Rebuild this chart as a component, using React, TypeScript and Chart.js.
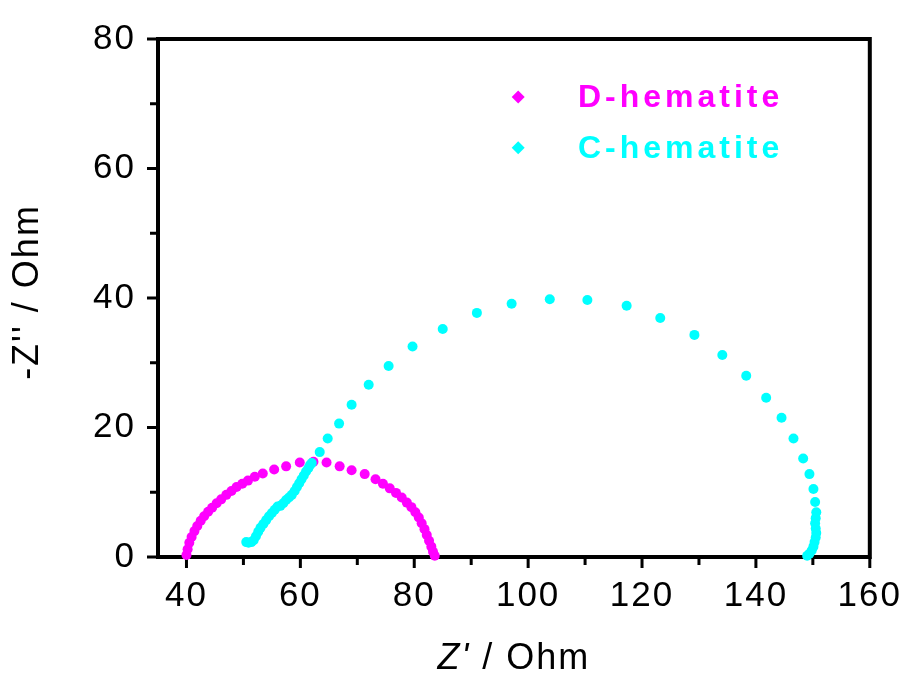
import React, { useEffect, useRef } from "react";
import { Chart, registerables } from "chart.js";

Chart.register(...registerables);

// D-hematite (magenta) Nyquist data
const dHematiteX = [40.0, 40.2, 40.5, 40.9, 41.4, 41.9, 42.5, 43.1, 43.8, 44.5, 45.3, 46.1, 47.0, 47.9, 48.8, 49.8, 50.8, 52.0, 53.4, 55.4, 57.5, 59.9, 62.3, 64.6, 66.9, 69.0, 71.3, 73.2, 74.5, 75.7, 76.8, 77.8, 78.7, 79.5, 80.2, 80.8, 81.3, 81.8, 82.2, 82.6, 83.0, 83.3, 83.6];
const dHematiteY = [0.3, 1.2, 2.2, 3.1, 4.0, 4.8, 5.6, 6.3, 7.0, 7.6, 8.3, 8.9, 9.6, 10.2, 10.8, 11.3, 11.8, 12.4, 12.9, 13.5, 14.0, 14.6, 14.7, 14.6, 14.0, 13.4, 12.8, 12.0, 11.3, 10.6, 9.9, 9.2, 8.4, 7.7, 6.9, 6.1, 5.2, 4.3, 3.4, 2.5, 1.6, 0.8, 0.2];

// C-hematite (cyan) Nyquist data
const cHematiteX = [50.5, 50.9, 51.4, 51.8, 52.2, 52.6, 53.0, 53.5, 54.0, 54.5, 55.0, 55.5, 56.0, 56.5, 57.0, 57.5, 58.0, 58.5, 59.0, 59.4, 59.8, 60.2, 60.6, 61.0, 61.4, 61.7, 62.0, 63.4, 64.8, 66.8, 69.0, 72.0, 75.5, 79.7, 85.0, 91.0, 97.1, 103.8, 110.4, 117.3, 123.2, 129.2, 134.1, 138.3, 141.8, 144.5, 146.6, 148.3, 149.4, 150.1, 150.4, 150.6, 150.5, 150.4, 150.5, 150.6, 150.5, 150.3, 150.1, 149.8, 149.4, 149.0];
const cHematiteY = [2.3, 2.2, 2.3, 2.6, 3.2, 3.9, 4.5, 5.1, 5.7, 6.3, 6.8, 7.3, 7.8, 7.9, 8.3, 8.8, 9.2, 9.6, 10.2, 10.8, 11.4, 12.0, 12.6, 13.2, 13.7, 14.2, 14.5, 16.2, 18.3, 20.6, 23.5, 26.6, 29.5, 32.5, 35.2, 37.7, 39.1, 39.8, 39.7, 38.8, 36.9, 34.3, 31.2, 28.0, 24.6, 21.5, 18.3, 15.2, 12.8, 10.5, 8.5, 6.9, 6.0, 5.2, 4.4, 3.7, 3.0, 2.3, 1.6, 1.0, 0.5, 0.2];

const seriesLabels = ["D-hematite", "C-hematite"];
const seriesColors = ["#ff00ff", "#00ffff"];

const xMajorTicks = [40, 60, 80, 100, 120, 140, 160];
const xMinorTicks = [50, 70, 90, 110, 130, 150];
const yMajorTicks = [0, 20, 40, 60, 80];
const yMinorTicks = [10, 30, 50, 70];

const FONT = "Arial, 'Liberation Sans', sans-serif";

const framePlugin = {
  id: "frameAndText",
  beforeDraw(chart: any) {
    (chart.ctx as any).letterSpacing = "2px";
  },
  beforeDatasetsDraw(chart: any) {
    const { ctx, chartArea: a, scales } = chart;
    ctx.save();
    ctx.strokeStyle = "#000";
    ctx.lineWidth = 4;
    ctx.strokeRect(a.left, a.top, a.right - a.left, a.bottom - a.top);
    ctx.lineWidth = 3;
    ctx.beginPath();
    const xs = scales.x;
    const ys = scales.y;
    xMajorTicks.forEach((v) => {
      const p = xs.getPixelForValue(v);
      ctx.moveTo(p, a.bottom);
      ctx.lineTo(p, a.bottom + 11);
    });
    xMinorTicks.forEach((v) => {
      const p = xs.getPixelForValue(v);
      ctx.moveTo(p, a.bottom);
      ctx.lineTo(p, a.bottom + 8);
    });
    yMajorTicks.forEach((v) => {
      const p = ys.getPixelForValue(v);
      ctx.moveTo(a.left, p);
      ctx.lineTo(a.left - 11, p);
    });
    yMinorTicks.forEach((v) => {
      const p = ys.getPixelForValue(v);
      ctx.moveTo(a.left, p);
      ctx.lineTo(a.left - 8, p);
    });
    ctx.stroke();
    ctx.restore();
  },
  afterDraw(chart: any) {
    const { ctx, chartArea: a } = chart;
    const w = a.right - a.left;
    const h = a.bottom - a.top;
    ctx.save();
    // legend
    const lx = a.left + 0.506 * w;
    const tx = a.left + 0.59 * w;
    const ly = [a.top + 0.112 * h, a.top + 0.21 * h];
    seriesLabels.forEach((lab, i) => {
      ctx.fillStyle = seriesColors[i];
      ctx.beginPath();
      const r = 6.5;
      ctx.moveTo(lx, ly[i] - r);
      ctx.lineTo(lx + r, ly[i]);
      ctx.lineTo(lx, ly[i] + r);
      ctx.lineTo(lx - r, ly[i]);
      ctx.closePath();
      ctx.fill();
      ctx.font = `bold 32px ${FONT}`;
      (ctx as any).letterSpacing = "4px";
      ctx.textAlign = "left";
      ctx.textBaseline = "middle";
      ctx.fillText(lab, tx, ly[i] + 1);
    });
    // x title: italic Z' then regular rest
    ctx.fillStyle = "#000";
    (ctx as any).letterSpacing = "2px";
    ctx.textBaseline = "middle";
    ctx.textAlign = "left";
    const part1 = "Z'";
    const part2 = " / Ohm";
    ctx.font = `italic 36px ${FONT}`;
    const w1 = ctx.measureText(part1).width;
    ctx.font = `36px ${FONT}`;
    const w2 = ctx.measureText(part2).width;
    const cx = (a.left + a.right) / 2;
    const ty = 659;
    const sx = cx - (w1 + w2) / 2;
    ctx.font = `italic 36px ${FONT}`;
    ctx.fillText(part1, sx, ty);
    ctx.font = `36px ${FONT}`;
    ctx.fillText(part2, sx + w1, ty);
    // y title
    ctx.translate(28, (a.top + a.bottom) / 2 - 6);
    ctx.rotate(-Math.PI / 2);
    ctx.textAlign = "center";
    ctx.font = `36px ${FONT}`;
    ctx.fillText("-Z'' / Ohm", 0, 0);
    ctx.restore();
  },
};

export default function App() {
  const ref = useRef<HTMLCanvasElement>(null);
  useEffect(() => {
    document.body.style.margin = "0";
    const canvas = ref.current!;
    const chart = new Chart(canvas, {
      type: "scatter",
      data: {
        datasets: [
          {
            label: seriesLabels[0],
            data: dHematiteX.map((x, i) => ({ x, y: dHematiteY[i] })),
            backgroundColor: seriesColors[0],
            borderColor: seriesColors[0],
            pointRadius: 5,
            pointBorderWidth: 0,
            order: 1,
            clip: false as any,
          },
          {
            label: seriesLabels[1],
            data: cHematiteX.map((x, i) => ({ x, y: cHematiteY[i] })),
            backgroundColor: seriesColors[1],
            borderColor: seriesColors[1],
            pointRadius: 5,
            pointBorderWidth: 0,
            order: 0,
            clip: false as any,
          },
        ],
      },
      options: {
        responsive: false,
        animation: false,
        devicePixelRatio: 1,
        layout: { padding: { top: 39, right: 27, left: 0, bottom: 0 } },
        plugins: { legend: { display: false }, tooltip: { enabled: false } },
        scales: {
          x: {
            type: "linear",
            min: 35,
            max: 160,
            afterBuildTicks: (s: any) => {
              s.ticks = xMajorTicks.map((v) => ({ value: v }));
            },
            afterFit: (s: any) => {
              s.height = 120;
            },
            grid: { display: false },
            border: { display: false },
            ticks: {
              color: "#000",
              font: { family: FONT, size: 35 },
              padding: 10,
              maxRotation: 0,
              autoSkip: false,
            },
          },
          y: {
            type: "linear",
            min: 0,
            max: 80,
            afterBuildTicks: (s: any) => {
              s.ticks = yMajorTicks.map((v) => ({ value: v }));
            },
            afterFit: (s: any) => {
              s.width = 158;
            },
            grid: { display: false },
            border: { display: false },
            ticks: {
              color: "#000",
              font: { family: FONT, size: 35 },
              padding: 14,
              autoSkip: false,
            },
          },
        },
      },
      plugins: [framePlugin],
    });
    return () => chart.destroy();
  }, []);
  return <canvas ref={ref} width={909} height={677} style={{ display: "block" }} />;
}
